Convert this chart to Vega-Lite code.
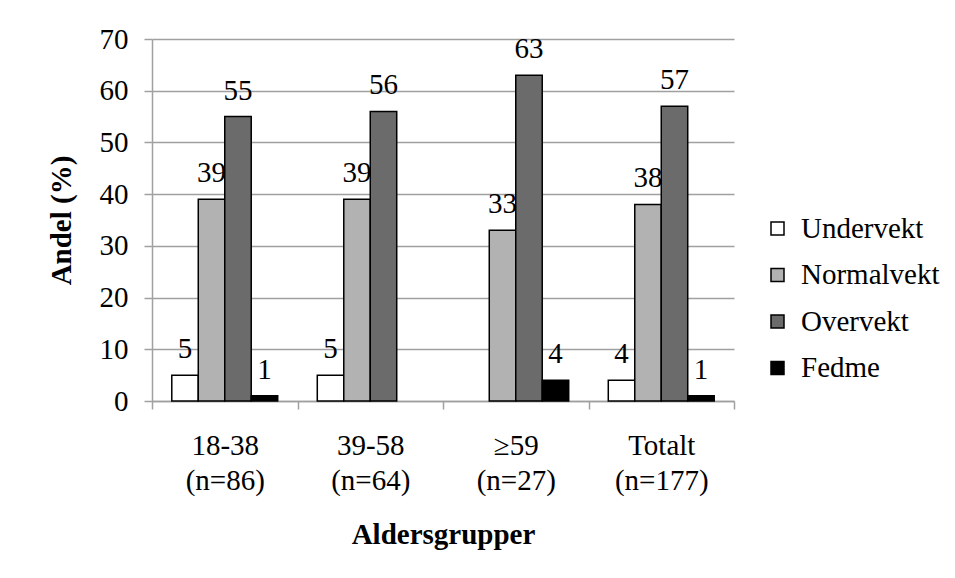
{
  "$schema": "https://vega.github.io/schema/vega-lite/v6.json",
  "width": 582,
  "height": 362,
  "autosize": {"type": "none"},
  "padding": {"left": 152, "top": 39, "right": 221, "bottom": 177},
  "background": "white",
  "config": {
    "view": {"stroke": null},
    "font": "Liberation Serif, Times New Roman, serif",
    "text": {"font": "Liberation Serif, Times New Roman, serif"}
  },
  "data": {
    "values": [
      {"gruppe": "18-38 (n=86)", "kategori": "Undervekt", "andel": 5},
      {"gruppe": "18-38 (n=86)", "kategori": "Normalvekt", "andel": 39},
      {"gruppe": "18-38 (n=86)", "kategori": "Overvekt", "andel": 55},
      {"gruppe": "18-38 (n=86)", "kategori": "Fedme", "andel": 1},
      {"gruppe": "39-58 (n=64)", "kategori": "Undervekt", "andel": 5},
      {"gruppe": "39-58 (n=64)", "kategori": "Normalvekt", "andel": 39},
      {"gruppe": "39-58 (n=64)", "kategori": "Overvekt", "andel": 56},
      {"gruppe": "≥59 (n=27)", "kategori": "Normalvekt", "andel": 33},
      {"gruppe": "≥59 (n=27)", "kategori": "Overvekt", "andel": 63},
      {"gruppe": "≥59 (n=27)", "kategori": "Fedme", "andel": 4},
      {"gruppe": "Totalt (n=177)", "kategori": "Undervekt", "andel": 4},
      {"gruppe": "Totalt (n=177)", "kategori": "Normalvekt", "andel": 38},
      {"gruppe": "Totalt (n=177)", "kategori": "Overvekt", "andel": 57},
      {"gruppe": "Totalt (n=177)", "kategori": "Fedme", "andel": 1}
    ]
  },
  "encoding": {
    "x": {
      "field": "gruppe",
      "type": "nominal",
      "scale": {
        "domain": ["18-38 (n=86)", "39-58 (n=64)", "≥59 (n=27)", "Totalt (n=177)"],
        "paddingInner": 0,
        "paddingOuter": 0
      },
      "axis": {
        "title": "Aldersgrupper",
        "titleFont": "Liberation Serif, Times New Roman, serif",
        "titleFontSize": 29,
        "titleFontWeight": "bold",
        "titleColor": "black",
        "titlePadding": 25,
        "labelFont": "Liberation Serif, Times New Roman, serif",
        "labelFontSize": 29,
        "labelColor": "black",
        "labelAngle": 0,
        "labelExpr": "split(datum.label, ' ')",
        "labelLineHeight": 35,
        "labelPadding": 22,
        "labelBaseline": "top",
        "tickBand": "extent",
        "tickSize": 8,
        "tickColor": "#a0a0a0",
        "tickWidth": 1.5,
        "domainColor": "#a0a0a0",
        "domainWidth": 1.5,
        "grid": false
      }
    },
    "xOffset": {
      "field": "kategori",
      "type": "nominal",
      "scale": {
        "domain": ["Undervekt", "Normalvekt", "Overvekt", "Fedme"],
        "paddingInner": 0,
        "paddingOuter": 0.747
      }
    },
    "y": {
      "field": "andel",
      "type": "quantitative",
      "scale": {"domain": [0, 70], "nice": false},
      "axis": {
        "title": "Andel (%)",
        "titleFont": "Liberation Serif, Times New Roman, serif",
        "titleFontSize": 29,
        "titleFontWeight": "bold",
        "titleColor": "black",
        "titlePadding": 23,
        "values": [0, 10, 20, 30, 40, 50, 60, 70],
        "labelFont": "Liberation Serif, Times New Roman, serif",
        "labelFontSize": 29,
        "labelColor": "black",
        "labelPadding": 16,
        "tickSize": 8,
        "tickColor": "#a0a0a0",
        "tickWidth": 1.5,
        "domainColor": "#a0a0a0",
        "domainWidth": 1.5,
        "grid": true,
        "gridColor": "#a0a0a0",
        "gridWidth": 1.5
      }
    }
  },
  "layer": [
    {
      "mark": {"type": "bar", "stroke": "black", "strokeWidth": 1.5},
      "encoding": {
        "color": {
          "field": "kategori",
          "type": "nominal",
          "scale": {
            "domain": ["Undervekt", "Normalvekt", "Overvekt", "Fedme"],
            "range": ["#ffffff", "#b2b2b2", "#6b6b6b", "#000000"]
          },
          "legend": {
            "title": null,
            "orient": "none",
            "legendX": 611,
            "legendY": 175,
            "padding": 0,
            "symbolType": "square",
            "symbolSize": 169,
            "symbolStrokeColor": "black",
            "symbolStrokeWidth": 1.5,
            "symbolOpacity": 1,
            "labelFont": "Liberation Serif, Times New Roman, serif",
            "labelFontSize": 29,
            "labelColor": "black",
            "labelOffset": 9,
            "rowPadding": 16.5,
            "labelLimit": 300
          }
        }
      }
    },
    {
      "mark": {
        "type": "text",
        "font": "Liberation Serif, Times New Roman, serif",
        "fontSize": 29,
        "color": "black",
        "baseline": "alphabetic",
        "dy": -17
      },
      "encoding": {
        "text": {"field": "andel", "type": "quantitative"}
      }
    }
  ]
}
